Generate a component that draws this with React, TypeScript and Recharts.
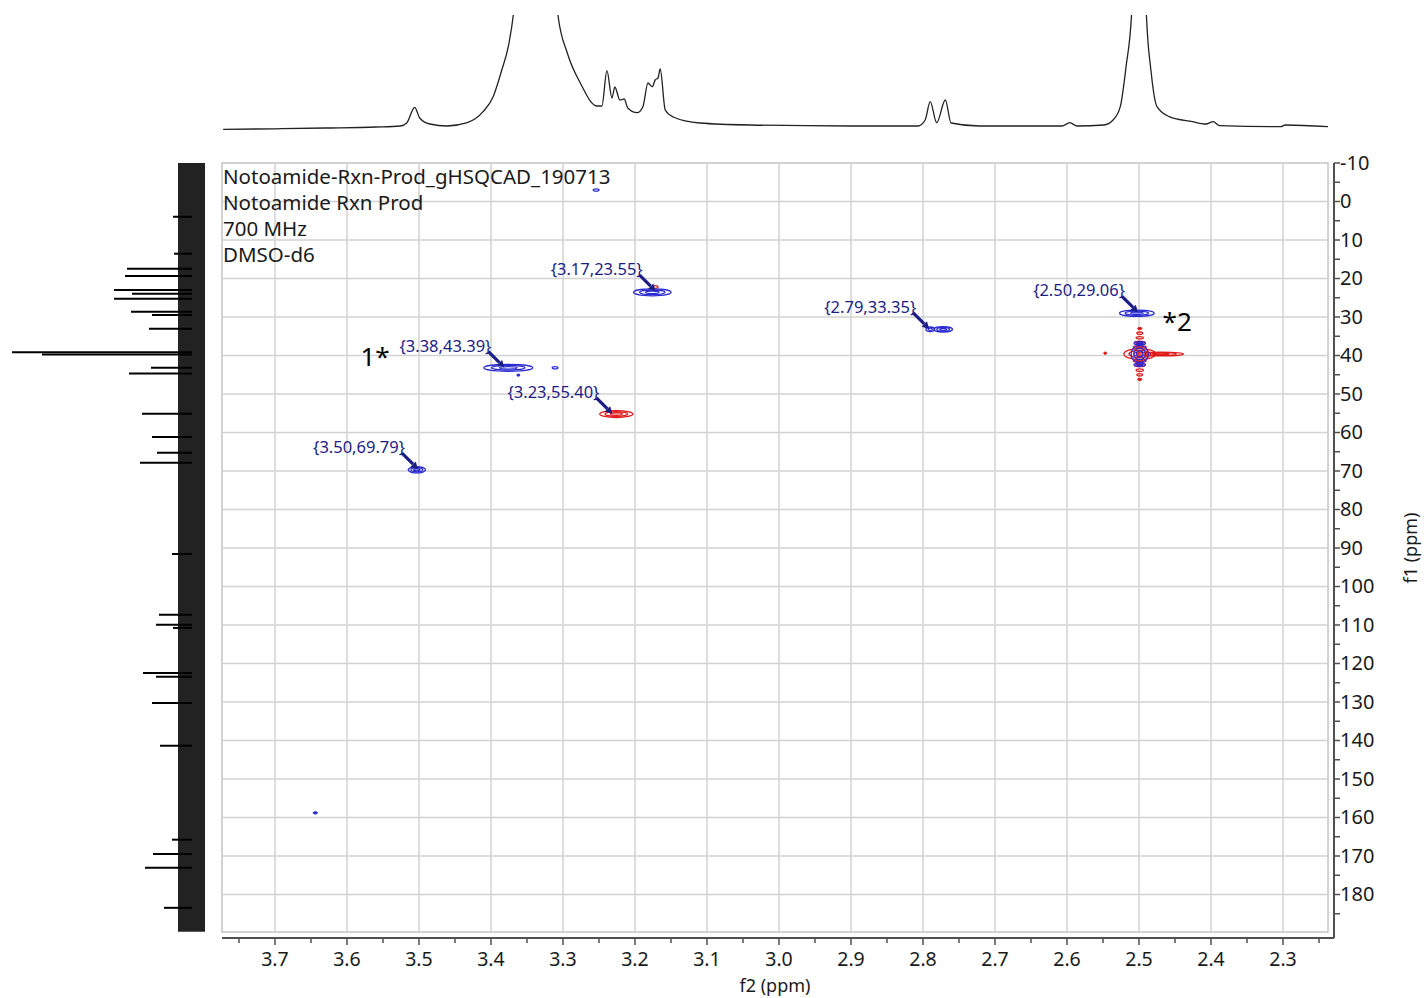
import React from 'react';
import {
  ScatterChart, Scatter, XAxis, YAxis, ReferenceLine, ReferenceArea,
  LineChart, Line, ComposedChart, Bar,
} from 'recharts';

// ---------------- data ----------------
const F2_MAJOR = [3.7, 3.6, 3.5, 3.4, 3.3, 3.2, 3.1, 3.0, 2.9, 2.8, 2.7, 2.6, 2.5, 2.4, 2.3];
const F2_MINOR = [3.75, 3.65, 3.55, 3.45, 3.35, 3.25, 3.15, 3.05, 2.95, 2.85, 2.75, 2.65, 2.55, 2.45, 2.35, 2.25];
const F1_MAJOR = [-10, 0, 10, 20, 30, 40, 50, 60, 70, 80, 90, 100, 110, 120, 130, 140, 150, 160, 170, 180];
const F1_MINOR = [-5, 5, 15, 25, 35, 45, 55, 65, 75, 85, 95, 105, 115, 125, 135, 145, 155, 165, 175, 185];

const TITLE_LINES = ['Notoamide-Rxn-Prod_gHSQCAD_190713', 'Notoamide Rxn Prod', '700 MHz', 'DMSO-d6'];

// 1H projection (ppm, intensity)
const PROTON_TRACE = [
  { ppm: 3.772, i: -1.3 }, { ppm: 3.70, i: -0.8 }, { ppm: 3.63, i: 0 }, { ppm: 3.56, i: 1 },
  { ppm: 3.526, i: 2 }, { ppm: 3.517, i: 5 }, { ppm: 3.506, i: 20.7 }, { ppm: 3.499, i: 10 },
  { ppm: 3.485, i: 4 }, { ppm: 3.461, i: 2 }, { ppm: 3.433, i: 5.3 }, { ppm: 3.411, i: 16.3 },
  { ppm: 3.397, i: 31.3 }, { ppm: 3.385, i: 58 }, { ppm: 3.376, i: 81.3 }, { ppm: 3.369, i: 113 },
  { ppm: 3.355, i: 260 }, { ppm: 3.338, i: 500 }, { ppm: 3.32, i: 260 }, { ppm: 3.307, i: 113 },
  { ppm: 3.294, i: 75 }, { ppm: 3.276, i: 45 }, { ppm: 3.253, i: 22 }, { ppm: 3.246, i: 22 },
  { ppm: 3.239, i: 57.3 }, { ppm: 3.232, i: 30 }, { ppm: 3.228, i: 41 }, { ppm: 3.221, i: 28 },
  { ppm: 3.215, i: 29 }, { ppm: 3.210, i: 20 }, { ppm: 3.197, i: 15.3 }, { ppm: 3.189, i: 21.3 },
  { ppm: 3.182, i: 45 }, { ppm: 3.176, i: 41.3 }, { ppm: 3.172, i: 48 }, { ppm: 3.168, i: 50 },
  { ppm: 3.165, i: 59 }, { ppm: 3.158, i: 18 }, { ppm: 3.147, i: 11 }, { ppm: 3.110, i: 5 },
  { ppm: 3.040, i: 3 }, { ppm: 2.90, i: 2 }, { ppm: 2.807, i: 2 }, { ppm: 2.797, i: 8 },
  { ppm: 2.790, i: 26.3 }, { ppm: 2.781, i: 5.3 }, { ppm: 2.769, i: 28 }, { ppm: 2.761, i: 5 },
  { ppm: 2.722, i: 2 }, { ppm: 2.607, i: 2 }, { ppm: 2.596, i: 5.3 }, { ppm: 2.586, i: 2 },
  { ppm: 2.549, i: 3 }, { ppm: 2.536, i: 8 }, { ppm: 2.526, i: 21.3 }, { ppm: 2.518, i: 61.3 },
  { ppm: 2.510, i: 118 }, { ppm: 2.501, i: 500 }, { ppm: 2.490, i: 118 }, { ppm: 2.483, i: 55 },
  { ppm: 2.475, i: 21.3 }, { ppm: 2.458, i: 11.3 }, { ppm: 2.426, i: 6.3 }, { ppm: 2.407, i: 4 },
  { ppm: 2.397, i: 6.3 }, { ppm: 2.388, i: 2.3 }, { ppm: 2.303, i: 1.3 }, { ppm: 2.297, i: 3 },
  { ppm: 2.236, i: 1.3 },
];

// 13C projection peaks (ppm, intensity)
const CARBON_PEAKS = [
  { ppm: 4.0, i: 19 }, { ppm: 13.6, i: 18 }, { ppm: 17.5, i: 65 }, { ppm: 19.4, i: 67 },
  { ppm: 23.0, i: 78 }, { ppm: 24.0, i: 60 }, { ppm: 25.3, i: 78 }, { ppm: 28.7, i: 61 },
  { ppm: 29.5, i: 40 }, { ppm: 33.1, i: 43 }, { ppm: 39.2, i: 180 }, { ppm: 39.8, i: 150 },
  { ppm: 43.2, i: 41 }, { ppm: 44.7, i: 63 }, { ppm: 55.2, i: 50 }, { ppm: 61.2, i: 40 },
  { ppm: 65.3, i: 35 }, { ppm: 67.9, i: 52 }, { ppm: 91.6, i: 20 }, { ppm: 107.4, i: 33 },
  { ppm: 110.0, i: 36 }, { ppm: 110.8, i: 19 }, { ppm: 122.5, i: 49 }, { ppm: 123.5, i: 36 },
  { ppm: 130.3, i: 40 }, { ppm: 141.4, i: 32 }, { ppm: 165.8, i: 20 }, { ppm: 169.5, i: 39 },
  { ppm: 173.1, i: 47 }, { ppm: 183.5, i: 28 },
];
const CARBON_NOISE = { lo: -13, hi: 14, f1Start: -10, f1End: 189.7 };

// 2D cross peaks: position (f2, f1) and half-widths in ppm (w2, w1)
const POSITIVE_PEAKS = [
  { f2: 3.176, f1: 23.6, w2: 0.026, w1: 0.9 },
  { f2: 3.376, f1: 43.2, w2: 0.034, w1: 0.9 },
  { f2: 3.503, f1: 69.7, w2: 0.012, w1: 0.8 },
  { f2: 2.790, f1: 33.2, w2: 0.006, w1: 0.6 },
  { f2: 2.772, f1: 33.2, w2: 0.013, w1: 0.7 },
  { f2: 2.503, f1: 29.0, w2: 0.024, w1: 0.8 },
  { f2: 3.311, f1: 43.2, w2: 0.004, w1: 0.3 },
  { f2: 3.362, f1: 45.1, w2: 0.002, w1: 0.3 },
  { f2: 3.254, f1: -3.0, w2: 0.004, w1: 0.3 },
  { f2: 3.644, f1: 158.8, w2: 0.003, w1: 0.3 },
  { f2: 2.499, f1: 39.6, w2: 0.012, w1: 2.2 },
  { f2: 2.499, f1: 36.8, w2: 0.008, w1: 0.4 },
  { f2: 2.499, f1: 42.4, w2: 0.008, w1: 0.4 },
];
const NEGATIVE_PEAKS = [
  { f2: 3.226, f1: 55.2, w2: 0.023, w1: 0.9 },
  { f2: 3.172, f1: 22.2, w2: 0.004, w1: 0.35 },
  { f2: 2.499, f1: 39.6, w2: 0.022, w1: 1.4 },
  { f2: 2.470, f1: 39.6, w2: 0.032, w1: 0.5 },
  { f2: 2.547, f1: 39.4, w2: 0.002, w1: 0.3 },
  { f2: 2.499, f1: 33.0, w2: 0.003, w1: 0.3 },
  { f2: 2.499, f1: 34.2, w2: 0.004, w1: 0.3 },
  { f2: 2.499, f1: 35.4, w2: 0.005, w1: 0.3 },
  { f2: 2.499, f1: 36.6, w2: 0.007, w1: 0.3 },
  { f2: 2.499, f1: 37.8, w2: 0.009, w1: 0.35 },
  { f2: 2.499, f1: 41.4, w2: 0.009, w1: 0.35 },
  { f2: 2.499, f1: 42.6, w2: 0.007, w1: 0.3 },
  { f2: 2.499, f1: 43.8, w2: 0.005, w1: 0.3 },
  { f2: 2.499, f1: 45.0, w2: 0.004, w1: 0.3 },
  { f2: 2.499, f1: 46.2, w2: 0.003, w1: 0.3 },
];
const PEAK_LABELS = [
  { f2: 3.17, f1: 23.55 }, { f2: 3.38, f1: 43.39 }, { f2: 3.23, f1: 55.40 },
  { f2: 3.50, f1: 69.79 }, { f2: 2.79, f1: 33.35 }, { f2: 2.50, f1: 29.06 },
];
const ANNOTATIONS = [
  { f2: 3.561, f1: 40.4, text: '1*' },
  { f2: 2.447, f1: 31.3, text: '*2' },
];

// ---------------- layout / style ----------------
const W = 1425;
const H = 998;
const PLOT_LEFT = 222;
const PLOT_TOP = 163;
const AXIS_X = 1334; // y-axis line
const AXIS_Y = 938; // x-axis line
const F2_DOMAIN: [number, number] = [2.2292, 3.7736];
const F1_DOMAIN: [number, number] = [-10, 191.3];
const FRAME_F2: [number, number] = [2.2375, 3.7736];
const FRAME_F1: [number, number] = [-10, 189.74];
const PX_PER_F2 = (AXIS_X - PLOT_LEFT) / (F2_DOMAIN[1] - F2_DOMAIN[0]);
const PX_PER_F1 = (AXIS_Y - PLOT_TOP) / (F1_DOMAIN[1] - F1_DOMAIN[0]);

const FONT = '"Noto Sans", "Open Sans", sans-serif';
const NAVY = '#1d1d86';
const BLUE = '#2a2ad2';
const RED = '#e01a1a';
const GRID = '#d2d2d2';
const AXIS = '#505050';
const TEXT = '#1a1a1a';

const isMajor = (arr: number[], v: number) => arr.some((m) => Math.abs(m - v) < 1e-6);

function XTick(props: any) {
  const { x, y, payload } = props;
  const v = payload.value;
  const major = isMajor(F2_MAJOR, v);
  return (
    <g>
      <line x1={x} x2={x} y1={y} y2={y + (major ? 7 : 5)} stroke={AXIS} strokeWidth={1.5} />
      {major && (
        <text x={x} y={y + 28} textAnchor="middle" fontSize={19.5} fontFamily={FONT} fill={TEXT}>
          {v.toFixed(1)}
        </text>
      )}
    </g>
  );
}

function YTick(props: any) {
  const { x, y, payload } = props;
  const v = payload.value;
  const major = isMajor(F1_MAJOR, v);
  return (
    <g>
      <line x1={x} x2={x + 6} y1={y} y2={y} stroke={AXIS} strokeWidth={1.5} />
      {major && (
        <text x={x + 6} y={y} dy={7} textAnchor="start" fontSize={20} fontFamily={FONT} fill={TEXT}>
          {String(v)}
        </text>
      )}
    </g>
  );
}

function makeContour(color: string) {
  return (props: any) => {
    const { cx, cy, payload } = props;
    if (cx == null || cy == null) return <g />;
    const rx = payload.w2 * PX_PER_F2;
    const ry = payload.w1 * PX_PER_F1;
    if (rx < 2.5) {
      return <ellipse cx={cx} cy={cy} rx={Math.max(rx, 1)} ry={Math.max(ry, 1)} fill={color} stroke={color} strokeWidth={1} />;
    }
    const levels = rx > 8 ? [1, 0.68, 0.36] : rx > 4 ? [1, 0.5] : [1];
    return (
      <g>
        {levels.map((s, k) => (
          <ellipse key={k} cx={cx} cy={cy} rx={Math.max(rx * s, 1)} ry={Math.max(ry * s, 0.8)}
            fill="none" stroke={color} strokeWidth={1.3} />
        ))}
      </g>
    );
  };
}

function LabelShape(props: any) {
  const { cx, cy, payload } = props;
  if (cx == null || cy == null) return <g />;
  const txt = `{${payload.f2.toFixed(2)},${payload.f1.toFixed(2)}}`;
  const tipX = cx - 1;
  const tipY = cy - 1;
  const d = 7;
  const bx = tipX - d * 0.7071;
  const by = tipY - d * 0.7071;
  const hw = 3.8;
  return (
    <g>
      <text x={cx - 14} y={cy - 17} textAnchor="end" fontSize={16.5} fontFamily={FONT} fill={NAVY}>{txt}</text>
      <line x1={cx - 17} y1={cy - 17} x2={bx} y2={by} stroke={NAVY} strokeWidth={3.2} />
      <polygon
        points={`${tipX},${tipY} ${bx + hw * 0.7071},${by - hw * 0.7071} ${bx - hw * 0.7071},${by + hw * 0.7071}`}
        fill={NAVY}
      />
    </g>
  );
}

function AnnotationShape(props: any) {
  const { cx, cy, payload } = props;
  if (cx == null || cy == null) return <g />;
  return (
    <text x={cx} y={cy} dy={9} textAnchor="middle" fontSize={26} fontFamily={FONT} fill="#000">
      {payload.text}
    </text>
  );
}

const blueShape = makeContour(BLUE);
const redShape = makeContour(RED);

export default function App() {
  return (
    <div style={{ position: 'absolute', left: 0, top: 0, width: W, height: H, background: '#fff', overflow: 'hidden' }}>
      {/* 1H projection */}
      <div style={{ position: 'absolute', left: 0, top: 0 }}>
        <LineChart width={W} height={150} data={PROTON_TRACE}
          margin={{ left: PLOT_LEFT, right: W - 1328, top: 15, bottom: 15 }}>
          <XAxis dataKey="ppm" type="number" domain={FRAME_F2} reversed allowDataOverflow hide />
          <YAxis type="number" domain={[-7, 113]} allowDataOverflow hide />
          <Line dataKey="i" type="monotone" stroke="#222" strokeWidth={1.3} dot={false} isAnimationActive={false} />
        </LineChart>
      </div>

      {/* 13C projection */}
      <div style={{ position: 'absolute', left: 0, top: 0 }}>
        <ComposedChart width={215} height={H} data={CARBON_PEAKS} layout="vertical"
          margin={{ left: 0, right: 5, top: PLOT_TOP, bottom: H - AXIS_Y }}>
          <XAxis type="number" domain={[-18, 192]} reversed allowDataOverflow hide />
          <YAxis type="number" dataKey="ppm" domain={F1_DOMAIN} allowDataOverflow hide />
          <ReferenceArea x1={CARBON_NOISE.lo} x2={CARBON_NOISE.hi} y1={CARBON_NOISE.f1Start} y2={CARBON_NOISE.f1End}
            fill="#111" fillOpacity={0.93} stroke="none" ifOverflow="visible" />
          <Bar dataKey="i" fill="#000" barSize={2} isAnimationActive={false} />
        </ComposedChart>
      </div>

      {/* 2D HSQC */}
      <div style={{ position: 'absolute', left: 0, top: 0 }}>
        <ScatterChart width={W} height={H} margin={{ left: PLOT_LEFT, top: PLOT_TOP, right: 0, bottom: 0 }}>
          <XAxis dataKey="f2" type="number" domain={F2_DOMAIN} reversed allowDataOverflow
            ticks={[...F2_MAJOR, ...F2_MINOR]} interval={0} tickSize={0} tickMargin={0} tickLine={false}
            tick={<XTick />} axisLine={{ stroke: AXIS, strokeWidth: 2 }} height={H - AXIS_Y} />
          <YAxis dataKey="f1" type="number" orientation="right" domain={F1_DOMAIN} reversed allowDataOverflow
            ticks={[...F1_MAJOR, ...F1_MINOR]} interval={0} tickSize={0} tickMargin={0} tickLine={false}
            tick={<YTick />} axisLine={{ stroke: AXIS, strokeWidth: 2 }} width={W - AXIS_X} />
          {F2_MAJOR.map((v) => (
            <ReferenceLine key={'gx' + v} segment={[{ x: v, y: FRAME_F1[0] }, { x: v, y: FRAME_F1[1] }]}
              stroke={GRID} strokeWidth={1.5} />
          ))}
          {F1_MAJOR.filter((v) => v > FRAME_F1[0]).map((v) => (
            <ReferenceLine key={'gy' + v} segment={[{ x: FRAME_F2[0], y: v }, { x: FRAME_F2[1], y: v }]}
              stroke={GRID} strokeWidth={1.5} />
          ))}
          <ReferenceArea x1={FRAME_F2[0]} x2={FRAME_F2[1]} y1={FRAME_F1[0]} y2={FRAME_F1[1]}
            fill="none" fillOpacity={0} stroke="#c4c4c4" strokeWidth={1.5} ifOverflow="visible" />
          <Scatter data={NEGATIVE_PEAKS} shape={redShape} isAnimationActive={false} />
          <Scatter data={POSITIVE_PEAKS} shape={blueShape} isAnimationActive={false} />
          <Scatter data={PEAK_LABELS} shape={LabelShape} isAnimationActive={false} />
          <Scatter data={ANNOTATIONS} shape={AnnotationShape} isAnimationActive={false} />
        </ScatterChart>
      </div>

      {/* texts */}
      <svg width={W} height={H} style={{ position: 'absolute', left: 0, top: 0, pointerEvents: 'none' }}>
        {TITLE_LINES.map((t, k) => (
          <text key={t} x={223} y={184 + k * 26} fontSize={20.5} fontFamily={FONT} fill={TEXT}>{t}</text>
        ))}
        <text x={775} y={992} textAnchor="middle" fontSize={18} fontFamily={FONT} fill={TEXT}>f2 (ppm)</text>
        <text x={1417} y={548} textAnchor="middle" fontSize={18} fontFamily={FONT} fill={TEXT}
          transform="rotate(-90 1417 548)">f1 (ppm)</text>
      </svg>
    </div>
  );
}
